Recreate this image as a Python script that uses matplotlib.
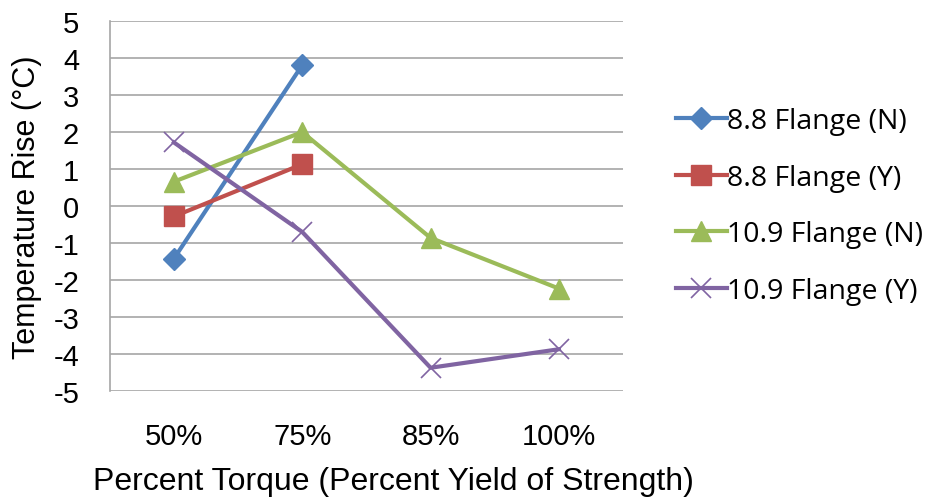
import matplotlib
matplotlib.use('Agg')
import matplotlib.pyplot as plt

categories = ['50%', '75%', '85%', '100%']
s88_n = [-1.42, 3.81]
s88_y = [-0.28, 1.13]
s109_n = [0.66, 2.0, -0.86, -2.23]
s109_y = [1.72, -0.70, -4.37, -3.87]

C_BLUE = '#4F81BD'; C_RED = '#C0504D'; C_GREEN = '#9BBB59'; C_PURPLE = '#8064A2'
C_GRID = '#A6A6A6'

plt.rcParams['font.family'] = ['Liberation Sans', 'DejaVu Sans']
plt.rcParams['axes.unicode_minus'] = False

fig = plt.figure(figsize=(9.3, 5.02), dpi=100)
ax = fig.add_axes([0.118, 0.219, 0.552, 0.737])

x = list(range(len(categories)))
ax.plot(x[:2], s88_n, color=C_BLUE, lw=3, marker='D', ms=11, label='8.8 Flange (N)')
ax.plot(x[:2], s88_y, color=C_RED, lw=3, marker='s', ms=14, label='8.8 Flange (Y)')
ax.plot(x, s109_n, color=C_GREEN, lw=3, marker='^', ms=15, label='10.9 Flange (N)')
ax.plot(x, s109_y, color=C_PURPLE, lw=3, marker='x', ms=15, mew=1.2, label='10.9 Flange (Y)')

ax.set_xlim(-0.5, 3.5)
ax.set_ylim(-5, 5)
ax.set_yticks(range(-5, 6))
ax.set_xticks(x)
ax.set_xticklabels(categories)
ax.yaxis.grid(True, color=C_GRID, lw=1.2)
ax.set_axisbelow(True)
for s in ['top', 'right', 'bottom']:
    ax.spines[s].set_visible(False)
ax.spines['left'].set_color(C_GRID)
ax.spines['left'].set_linewidth(1.2)
ax.tick_params(axis='both', length=0, labelsize=21)
ax.tick_params(axis='y', pad=22)
ax.tick_params(axis='x', pad=22)
ax.set_ylabel('Temperature Rise (°C)', fontsize=22, labelpad=8)
ax.set_xlabel('Percent Torque (Percent Yield of Strength)', fontsize=23, labelpad=12)
ax.xaxis.label.set_x(0.553)

leg = ax.legend(loc='center left', bbox_to_anchor=(1.08, 0.5), frameon=False,
                prop={'family': 'Open Sans', 'size': 20.5},
                handlelength=1.8, labelspacing=1.0, handletextpad=0.0,
                borderaxespad=0.0)

fig.savefig('out.png', dpi=100)
